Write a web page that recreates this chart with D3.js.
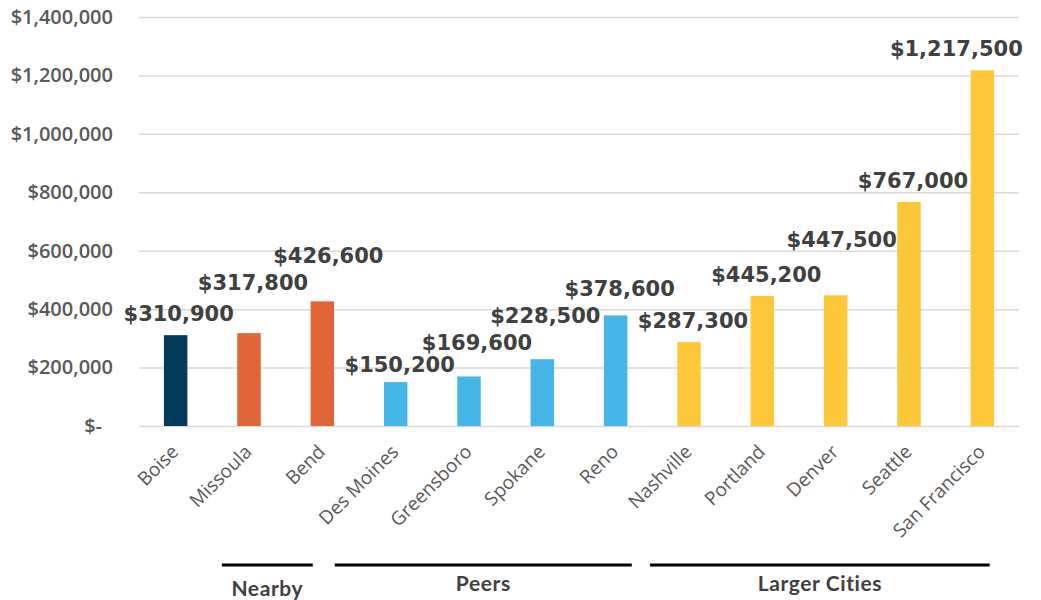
<!DOCTYPE html>
<html>
<head>
<meta charset="utf-8">
<script src="https://cdn.jsdelivr.net/npm/d3@7"></script>
<style>
  body { margin: 0; background: #fff; }
  svg { display: block; }
</style>
</head>
<body>
<svg id="chart" width="1041" height="600"></svg>
<script>
// Median home prices by city
const cities = ["Boise", "Missoula", "Bend", "Des Moines", "Greensboro", "Spokane",
                "Reno", "Nashville", "Portland", "Denver", "Seattle", "San Francisco"];
const prices = [310900, 317800, 426600, 150200, 169600, 228500,
                378600, 287300, 445200, 447500, 767000, 1217500];
const cityGroup = ["Home", "Nearby", "Nearby", "Peers", "Peers", "Peers",
                   "Peers", "Larger Cities", "Larger Cities", "Larger Cities", "Larger Cities", "Larger Cities"];
const yTicks = [0, 200000, 400000, 600000, 800000, 1000000, 1200000, 1400000];
const groupNames = ["Nearby", "Peers", "Larger Cities"];

// Bracket spans under each group, in category-slot units (0 = left edge of the first slot)
const groupSpan = [[1.13, 2.37], [2.67, 6.72], [6.97, 11.6]];

// Manual placement of value labels: [horizontal shift, offset above bar top]
const labelOffset = {
  "Boise": [3, -14], "Missoula": [4, -43], "Bend": [6, -38], "Des Moines": [4, -10],
  "Greensboro": [8, -26], "Spokane": [3, -36], "Reno": [4, -19], "Nashville": [4, -14],
  "Portland": [4, -14], "Denver": [6, -48], "Seattle": [4, -14], "San Francisco": [-26, -14]
};

const groupColor = {
  "Home": "#023a5c",
  "Nearby": "#e06537",
  "Peers": "#45b6e7",
  "Larger Cities": "#ffc73a"
};

const svg = d3.select("#chart");

const x = d3.scaleBand().domain(cities).range([139, 1019]).paddingInner(0.68).paddingOuter(0.34);
const slot = d3.scaleLinear().domain([0, cities.length]).range([139, 1019]);
const y = d3.scaleLinear().domain([0, 1400000]).range([426, 17]);

const money = d3.format("$,");

// Gridlines and y-axis labels
const yAxis = d3.axisLeft(y)
  .tickValues(yTicks)
  .tickSize(-(1019 - 139))
  .tickPadding(26)
  .tickFormat(d => d === 0 ? "$-" : money(d));

const gy = svg.append("g").attr("transform", "translate(139,0)").call(yAxis);
gy.select(".domain").remove();
gy.selectAll(".tick line").attr("stroke", "#d9d9d9").attr("stroke-width", 1.5);
gy.selectAll(".tick text")
  .attr("fill", "#595959")
  .style("font-family", "'Open Sans', sans-serif")
  .style("font-weight", 600)
  .style("font-size", "20px")
  .attr("dx", d => d === 0 ? -11 : 0);

// Bars
svg.append("g").selectAll("rect")
  .data(cities)
  .join("rect")
  .attr("x", (d) => x(d))
  .attr("width", x.bandwidth())
  .attr("y", (d, i) => y(prices[i]))
  .attr("height", (d, i) => y(0) - y(prices[i]))
  .attr("fill", (d, i) => groupColor[cityGroup[i]]);

// Value labels
svg.append("g").selectAll("text")
  .data(cities)
  .join("text")
  .attr("x", d => x(d) + x.bandwidth() / 2 + labelOffset[d][0])
  .attr("y", (d, i) => y(prices[i]) + labelOffset[d][1])
  .attr("text-anchor", "middle")
  .attr("fill", "#404040")
  .style("font-family", "'DejaVu Sans', sans-serif")
  .style("font-weight", "bold")
  .style("font-size", "21px")
  .text((d, i) => money(prices[i]));

// Category labels, rotated
svg.append("g").selectAll("text")
  .data(cities)
  .join("text")
  .attr("transform", d => `translate(${x(d) + x.bandwidth() / 2 + 4},${453}) rotate(-45)`)
  .attr("text-anchor", "end")
  .attr("fill", "#595959")
  .style("font-family", "'Open Sans', sans-serif")
  .style("font-size", "19px")
  .text(d => d);

// Group brackets
const gg = svg.append("g");
groupNames.forEach((name, i) => {
  const x0 = slot(groupSpan[i][0]);
  const x1 = slot(groupSpan[i][1]);
  gg.append("line")
    .attr("x1", x0).attr("x2", x1)
    .attr("y1", 565).attr("y2", 565)
    .attr("stroke", "#000").attr("stroke-width", 3);
  gg.append("text")
    .attr("x", (x0 + x1) / 2)
    .attr("y", name === "Nearby" ? 596 : 591)
    .attr("text-anchor", "middle")
    .attr("fill", "#404040")
    .style("font-family", "Lato, sans-serif")
    .style("font-weight", "bold")
    .style("font-size", "21px")
    .style("letter-spacing", "0.6px")
    .text(name);
});
</script>
</body>
</html>
